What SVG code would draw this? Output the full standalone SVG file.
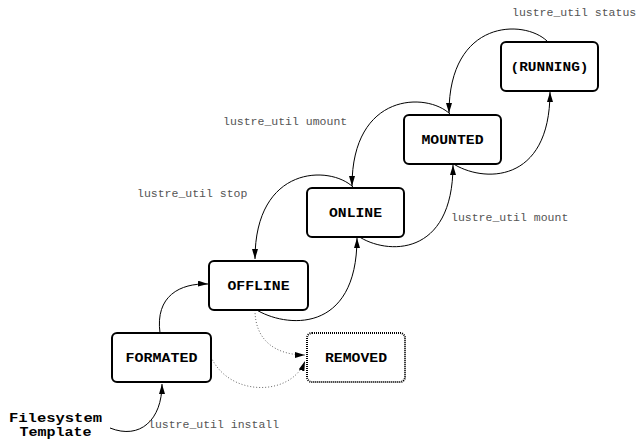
<svg xmlns="http://www.w3.org/2000/svg" width="641" height="439" viewBox="0 0 641 439">
<style>
.box{fill:#fff;stroke:#000;stroke-width:2}
.dbox{fill:#fff;stroke:#000;stroke-width:2;stroke-dasharray:1 1}
.nl{font-family:"Liberation Mono","DejaVu Sans Mono",monospace;font-weight:bold;font-size:13px;fill:#000;text-anchor:middle}
.tl{font-family:"Liberation Mono","DejaVu Sans Mono",monospace;font-weight:bold;font-size:12px;fill:#000;text-anchor:middle}
.el{font-family:"Liberation Mono","DejaVu Sans Mono",monospace;font-size:11.5px;fill:#555}
.e{fill:none;stroke:#000;stroke-width:1}
.d{fill:none;stroke:#666;stroke-width:1;stroke-dasharray:1 2}
</style>
<defs>
<marker id="ah" viewBox="0 0 10 6" refX="10" refY="3" markerWidth="10" markerHeight="6" markerUnits="userSpaceOnUse" orient="auto">
<path d="M0,0 L10,3 L0,6 Z" fill="#000"/>
</marker>
</defs>
<g id="connectors">
<path class="e" d="M110,428 C140,440 162,420 162,384" marker-end="url(#ah)"/>
<path class="e" d="M160,333 C155,296 180,283 208,284" marker-end="url(#ah)"/>
<path class="e" d="M255,309 C285,328 357,335 357,238" marker-end="url(#ah)"/>
<path class="e" d="M353,187 C330,165 255,165 255,259" marker-end="url(#ah)"/>
<path class="e" d="M358,236 C386,255 453,258 453,165" marker-end="url(#ah)"/>
<path class="e" d="M450,114 C427,92 352,92 352,186" marker-end="url(#ah)"/>
<path class="e" d="M452,163 C482,183 550,185 550,92" marker-end="url(#ah)"/>
<path class="e" d="M547,41 C524,19 449,19 449,113" marker-end="url(#ah)"/>
<path class="d" d="M255,310 C255,340 275,355 305,355" marker-end="url(#ah)"/>
<path class="d" d="M211,357 C230,398 292,396 305,361" marker-end="url(#ah)"/>
</g>
<g id="formated"><rect class="box" x="112" y="333" width="99" height="49" rx="5"/><text class="nl" x="161.5" y="362" textLength="72" lengthAdjust="spacingAndGlyphs">FORMATED</text></g>
<g id="removed"><rect class="dbox" x="307" y="333" width="98" height="49" rx="5"/><text class="nl" x="356" y="362" textLength="62" lengthAdjust="spacingAndGlyphs">REMOVED</text></g>
<g id="offline"><rect class="box" x="209" y="261" width="99" height="49" rx="5"/><text class="nl" x="258.5" y="290" textLength="62" lengthAdjust="spacingAndGlyphs">OFFLINE</text></g>
<g id="online"><rect class="box" x="307" y="188" width="97" height="49" rx="5"/><text class="nl" x="355.5" y="217" textLength="53" lengthAdjust="spacingAndGlyphs">ONLINE</text></g>
<g id="mounted"><rect class="box" x="404" y="115" width="97" height="49" rx="5"/><text class="nl" x="452.5" y="144" textLength="62" lengthAdjust="spacingAndGlyphs">MOUNTED</text></g>
<g id="running"><rect class="box" x="501" y="42" width="97" height="49" rx="5"/><text class="nl" x="549.5" y="71" textLength="78" lengthAdjust="spacingAndGlyphs">(RUNNING)</text></g>
<g id="template"><text class="tl" x="55.5" y="422" textLength="93" lengthAdjust="spacingAndGlyphs">Filesystem</text><text class="tl" x="55.5" y="436" textLength="72" lengthAdjust="spacingAndGlyphs">Template</text></g>
<g id="labels">
<text class="el" x="512" y="16">lustre_util status</text>
<text class="el" x="223" y="125">lustre_util umount</text>
<text class="el" x="137" y="197">lustre_util stop</text>
<text class="el" x="451" y="221">lustre_util mount</text>
<text class="el" x="148" y="428">lustre_util install</text>
</g>
</svg>
